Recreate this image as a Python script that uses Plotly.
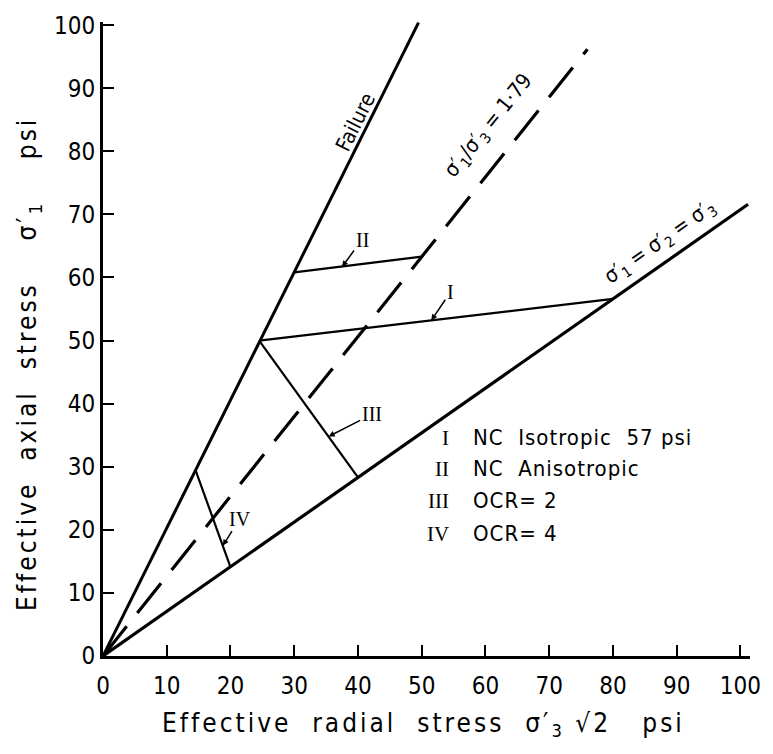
import plotly.graph_objects as go

# ---- data ----
failure_x = [0, 49.5]
failure_y = [0, 100.4]

ratio_x = [0, 76]          # sigma1'/sigma3' = 1.79 line
ratio_y = [0, 96.2]

iso_x = [0, 101.2]          # sigma1' = sigma2' = sigma3'
iso_y = [0, 71.6]

path_I_x = [24.5, 80]
path_I_y = [50, 56.6]
path_II_x = [30, 50]
path_II_y = [60.8, 63.3]
path_III_x = [24.5, 40]
path_III_y = [50, 28.3]
path_IV_x = [14.5, 20]
path_IV_y = [29.5, 14.1]

x_ticks = [0, 10, 20, 30, 40, 50, 60, 70, 80, 90, 100]
y_ticks = [0, 10, 20, 30, 40, 50, 60, 70, 80, 90, 100]

legend_nums = ["I", "II", "III", "IV"]
legend_texts = ["NC  Isotropic  57 psi", "NC  Anisotropic", "OCR= 2", "OCR= 4"]
legend_y = [34.6, 29.7, 24.6, 19.4]

FONT = "Liberation Sans Narrow, DejaVu Sans Condensed, Liberation Sans, sans-serif"
BLACK = "#000000"

def spaced(s, px):
    return f"<span style='letter-spacing:{px}px'>{s}</span>"

fig = go.Figure()

def add_line(x, y, width, dash="solid"):
    fig.add_trace(go.Scatter(x=x, y=y, mode="lines",
                             line=dict(color=BLACK, width=width, dash=dash),
                             hoverinfo="skip", showlegend=False))

add_line(failure_x, failure_y, 3)
add_line(ratio_x, ratio_y, 3.2, dash="38px,17px")
add_line(iso_x, iso_y, 3.2)
add_line(path_I_x, path_I_y, 2.2)
add_line(path_II_x, path_II_y, 2.2)
add_line(path_III_x, path_III_y, 2.2)
add_line(path_IV_x, path_IV_y, 2.2)

ann = []
# path labels with arrows
for label, tx, ty, ax, ay in [
    ("II", 37.5, 61.7, 20, -27),
    ("I", 51.5, 53.2, 19, -28),
    ("III", 35.4, 34.8, 43, -22),
    ("IV", 18.8, 17.5, 17, -27),
]:
    ann.append(dict(x=tx, y=ty, xref="x", yref="y", text=label,
                    showarrow=True, ax=ax, ay=ay, arrowhead=2, arrowsize=0.8,
                    arrowwidth=1.5, arrowcolor=BLACK,
                    font=dict(family="Liberation Serif, serif", size=20, color=BLACK)))

# rotated line labels
ann.append(dict(x=39.6, y=84.7, xref="x", yref="y", text="Failure", showarrow=False,
                xanchor="center", yanchor="middle",
                textangle=-63.5, font=dict(family=FONT, size=21, color=BLACK)))
ann.append(dict(x=60.5, y=84.0, xref="x", yref="y",
                text="σ′<sub>1</sub>/σ′<sub>3</sub> = 1·79", showarrow=False,
                xanchor="center", yanchor="middle",
                textangle=-51, font=dict(family=FONT, size=21, color=BLACK)))
ann.append(dict(x=87.4, y=65.7, xref="x", yref="y",
                text="σ′<sub>1</sub> = σ′<sub>2</sub> = σ′<sub>3</sub>", showarrow=False,
                xanchor="center", yanchor="middle",
                textangle=-35, font=dict(family=FONT, size=21, color=BLACK)))

# legend block
for num, txt, ly in zip(legend_nums, legend_texts, legend_y):
    ann.append(dict(x=54.6, y=ly, xref="x", yref="y", text=num, showarrow=False,
                    xanchor="right", yanchor="middle",
                    font=dict(family="Liberation Serif, serif", size=21, color=BLACK)))
    ann.append(dict(x=57.7, y=ly, xref="x", yref="y", text=spaced(txt, 1), showarrow=False,
                    xanchor="left", yanchor="middle",
                    font=dict(family=FONT, size=22, color=BLACK)))

# axis titles
ann.append(dict(x=0.495, y=-0.108, xref="paper", yref="paper",
                xanchor="center", yanchor="middle",
                text=spaced("Effective  radial  stress  σ′<sub>3</sub> √2   psi", 3), showarrow=False,
                font=dict(family=FONT, size=26, color=BLACK)))
ann.append(dict(x=-0.115, y=0.46, xref="paper", yref="paper",
                xanchor="center", yanchor="middle",
                text=spaced("Effective  axial  stress    σ′<sub>1</sub>    psi", 3), showarrow=False,
                textangle=-90, font=dict(family=FONT, size=26, color=BLACK)))

fig.update_layout(
    width=773, height=754,
    margin=dict(l=103, r=19, t=20, b=98),
    paper_bgcolor="white", plot_bgcolor="white",
    annotations=ann,
    showlegend=False,
)
fig.update_xaxes(range=[0, 101.5], tickvals=x_ticks, ticktext=[str(v) for v in x_ticks],
                 showgrid=False, zeroline=False, showline=True, linecolor=BLACK, linewidth=3,
                 ticks="inside", ticklen=11, tickwidth=2, tickcolor=BLACK, ticklabelstandoff=6,
                 tickfont=dict(family=FONT, size=24, color=BLACK))
fig.update_yaxes(range=[0, 100.5], tickvals=y_ticks, ticktext=[str(v) for v in y_ticks],
                 showgrid=False, zeroline=False, showline=True, linecolor=BLACK, linewidth=3,
                 ticks="inside", ticklen=11, tickwidth=2, tickcolor=BLACK,
                 tickfont=dict(family=FONT, size=24, color=BLACK))

fig.write_html("out.html")
